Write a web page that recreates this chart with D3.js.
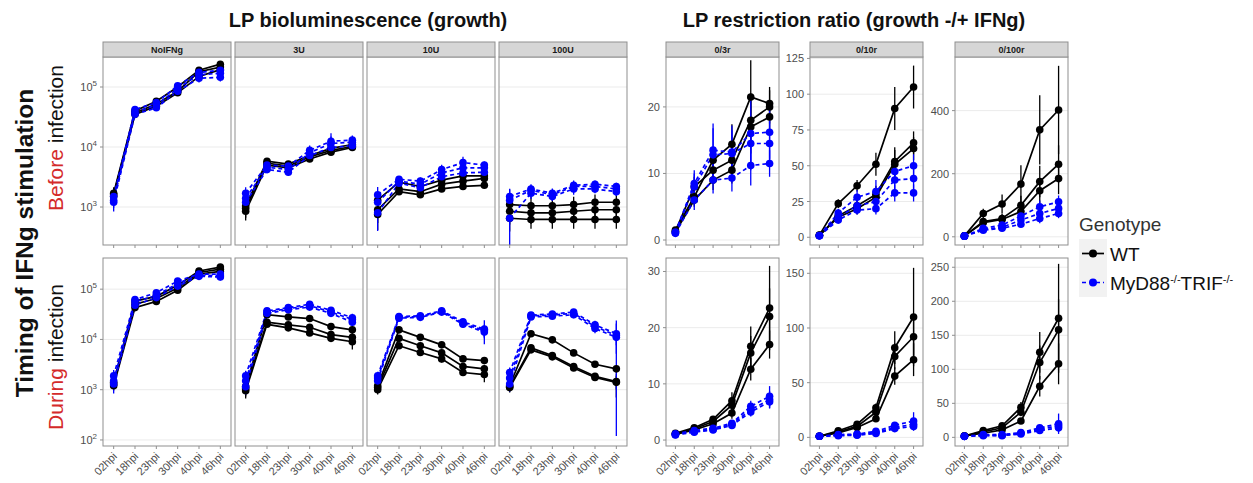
<!DOCTYPE html>
<html>
<head>
<meta charset="utf-8">
<script src="https://cdn.jsdelivr.net/npm/d3@7"></script>
<style>
  body { margin: 0; background: #fff; }
  svg { font-family: "Liberation Sans", Arial, Helvetica, sans-serif; }
</style>
</head>
<body>
<svg id="chart" width="1253" height="483"></svg>
<script>
// ---- categories -------------------------------------------------------
const timepoints = ["02hpi", "18hpi", "23hpi", "30hpi", "40hpi", "46hpi"];
const genotypes = ["WT", "MyD88-/-TRIF-/-"];
const lumiConditions = ["NoIFNg", "3U", "10U", "100U"];
const ratioConditions = ["0/3r", "0/10r", "0/100r"];
const timings = ["Before", "During"];

// ---- LP bioluminescence (RLU): [genotype, replicate means, relative sd] ----
const lumiBeforeNoIFNg = [
  ["WT", [1700, 40000, 58000, 100000, 190000, 240000], [0.25, 0.08, 0.08, 0.08, 0.1, 0.1]],
  ["WT", [1600, 37000, 52000, 85000, 180000, 215000], [0.2, 0.08, 0.08, 0.08, 0.08, 0.1]],
  ["WT", [1500, 35000, 48000, 80000, 150000, 195000], [0.2, 0.08, 0.08, 0.08, 0.1, 0.1]],
  ["MyD88-/-TRIF-/-", [1500, 42000, 55000, 105000, 175000, 190000], [0.3, 0.1, 0.12, 0.12, 0.15, 0.15]],
  ["MyD88-/-TRIF-/-", [1300, 38000, 50000, 95000, 160000, 170000], [0.25, 0.1, 0.12, 0.12, 0.15, 0.2]],
  ["MyD88-/-TRIF-/-", [1200, 35000, 45000, 85000, 140000, 145000], [0.3, 0.1, 0.1, 0.12, 0.15, 0.15]]
];
const lumiBefore3U = [
  ["WT", [1050, 5800, 5200, 7200, 9500, 11000], [0.25, 0.1, 0.1, 0.1, 0.12, 0.1]],
  ["WT", [950, 5400, 4800, 6800, 8800, 10200], [0.3, 0.1, 0.1, 0.1, 0.12, 0.1]],
  ["WT", [850, 5000, 4500, 6300, 8200, 9800], [0.3, 0.1, 0.1, 0.1, 0.1, 0.1]],
  ["MyD88-/-TRIF-/-", [1700, 5000, 4800, 8800, 12500, 13000], [0.25, 0.12, 0.15, 0.2, 0.35, 0.2]],
  ["MyD88-/-TRIF-/-", [1400, 4600, 4200, 8000, 11500, 12000], [0.3, 0.12, 0.15, 0.2, 0.3, 0.2]],
  ["MyD88-/-TRIF-/-", [1200, 4200, 3800, 7200, 9800, 10500], [0.35, 0.12, 0.12, 0.15, 0.2, 0.15]]
];
const lumiBefore10U = [
  ["WT", [1300, 2600, 2200, 2800, 3300, 3300], [0.3, 0.1, 0.1, 0.1, 0.1, 0.1]],
  ["WT", [900, 2000, 1800, 2400, 2700, 3000], [0.4, 0.1, 0.1, 0.1, 0.1, 0.1]],
  ["WT", [750, 1800, 1600, 2000, 2200, 2300], [0.45, 0.1, 0.1, 0.1, 0.1, 0.1]],
  ["MyD88-/-TRIF-/-", [1600, 2900, 2700, 4200, 5500, 5000], [0.35, 0.12, 0.15, 0.2, 0.25, 0.15]],
  ["MyD88-/-TRIF-/-", [1200, 2700, 2400, 3700, 4500, 4500], [0.4, 0.12, 0.15, 0.2, 0.25, 0.15]],
  ["MyD88-/-TRIF-/-", [800, 2500, 2100, 3200, 3700, 3800], [0.5, 0.12, 0.12, 0.15, 0.2, 0.15]]
];
const lumiBefore100U = [
  ["WT", [1100, 1050, 1050, 1100, 1200, 1200], [0.4, 0.4, 0.35, 0.35, 0.35, 0.35]],
  ["WT", [850, 800, 800, 850, 900, 900], [0.4, 0.35, 0.35, 0.35, 0.35, 0.35]],
  ["WT", [650, 620, 620, 620, 620, 620], [0.4, 0.3, 0.3, 0.3, 0.3, 0.3]],
  ["MyD88-/-TRIF-/-", [1500, 2000, 1700, 2300, 2400, 2200], [0.35, 0.2, 0.2, 0.2, 0.15, 0.15]],
  ["MyD88-/-TRIF-/-", [1300, 1900, 1600, 2200, 2200, 2000], [0.5, 0.2, 0.2, 0.2, 0.15, 0.15]],
  ["MyD88-/-TRIF-/-", [650, 1700, 1500, 2000, 2000, 1800], [0.75, 0.2, 0.15, 0.2, 0.15, 0.15]]
];
const lumiDuringNoIFNg = [
  ["WT", [1400, 58000, 72000, 120000, 230000, 275000], [0.2, 0.1, 0.1, 0.1, 0.08, 0.08]],
  ["WT", [1300, 50000, 65000, 105000, 215000, 250000], [0.2, 0.1, 0.1, 0.1, 0.08, 0.08]],
  ["WT", [1200, 43000, 57000, 95000, 200000, 225000], [0.2, 0.1, 0.1, 0.1, 0.08, 0.08]],
  ["MyD88-/-TRIF-/-", [1900, 62000, 85000, 145000, 200000, 200000], [0.3, 0.12, 0.12, 0.12, 0.1, 0.15]],
  ["MyD88-/-TRIF-/-", [1500, 56000, 75000, 130000, 190000, 185000], [0.3, 0.12, 0.12, 0.12, 0.1, 0.15]],
  ["MyD88-/-TRIF-/-", [1300, 48000, 68000, 115000, 180000, 175000], [0.35, 0.12, 0.12, 0.12, 0.1, 0.15]]
];
const lumiDuring3U = [
  ["WT", [1150, 31000, 28000, 26000, 18000, 15500], [0.3, 0.1, 0.1, 0.1, 0.1, 0.15]],
  ["WT", [1050, 22000, 19500, 17500, 12500, 11000], [0.3, 0.1, 0.1, 0.1, 0.15, 0.2]],
  ["WT", [950, 20000, 17000, 13500, 10500, 9000], [0.3, 0.1, 0.1, 0.12, 0.15, 0.3]],
  ["MyD88-/-TRIF-/-", [1900, 37000, 43000, 50000, 38000, 27000], [0.25, 0.1, 0.1, 0.1, 0.12, 0.2]],
  ["MyD88-/-TRIF-/-", [1500, 35000, 41000, 47000, 35000, 25000], [0.25, 0.1, 0.1, 0.1, 0.12, 0.2]],
  ["MyD88-/-TRIF-/-", [1150, 33000, 39000, 44000, 33000, 22000], [0.3, 0.1, 0.1, 0.1, 0.12, 0.2]]
];
const lumiDuring10U = [
  ["WT", [1200, 15500, 11000, 7800, 4100, 3800], [0.15, 0.12, 0.1, 0.1, 0.12, 0.15]],
  ["WT", [1100, 10500, 7500, 5400, 2900, 2600], [0.15, 0.12, 0.12, 0.12, 0.15, 0.2]],
  ["WT", [1000, 7500, 5500, 4100, 2200, 2000], [0.2, 0.12, 0.12, 0.15, 0.15, 0.3]],
  ["MyD88-/-TRIF-/-", [1900, 28500, 29500, 37000, 22500, 16000], [0.2, 0.08, 0.08, 0.1, 0.15, 0.5]],
  ["MyD88-/-TRIF-/-", [1700, 27500, 28500, 36000, 21000, 15000], [0.2, 0.08, 0.08, 0.1, 0.15, 0.3]],
  ["MyD88-/-TRIF-/-", [1500, 26500, 27500, 35000, 20000, 14000], [0.2, 0.08, 0.08, 0.1, 0.15, 0.2]]
];
const lumiDuring100U = [
  ["WT", [1200, 13000, 9800, 5400, 3200, 2600], [0.2, 0.1, 0.1, 0.1, 0.1, 0.15]],
  ["WT", [1150, 6800, 4800, 2900, 1850, 1450], [0.2, 0.1, 0.1, 0.1, 0.15, 0.3]],
  ["WT", [1100, 6200, 4500, 2700, 1750, 1400], [0.2, 0.1, 0.1, 0.1, 0.15, 0.5]],
  ["MyD88-/-TRIF-/-", [2200, 30500, 32000, 35000, 19500, 13000], [0.25, 0.1, 0.12, 0.15, 0.2, 0.6]],
  ["MyD88-/-TRIF-/-", [1700, 29500, 30500, 33000, 18000, 12000], [0.25, 0.1, 0.12, 0.15, 0.2, 0.99]],
  ["MyD88-/-TRIF-/-", [1300, 28000, 29000, 31000, 16500, 11000], [0.3, 0.1, 0.1, 0.15, 0.2, 0.3]]
];

// ---- LP restriction ratio: [genotype, replicate means, sd] ----
const ratioBefore3 = [
  ["WT", [1.5, 6.5, 12.0, 14.4, 21.5, 20.5], [0.3, 1.2, 2, 3, 5.5, 2.5]],
  ["WT", [1.3, 8.0, 10.5, 12.0, 18.0, 20.0], [0.3, 1.5, 2, 2.5, 4, 2.5]],
  ["WT", [1.2, 6.0, 9.0, 10.5, 17.0, 18.5], [0.3, 1, 1.5, 2, 4, 2]],
  ["MyD88-/-TRIF-/-", [1.2, 8.5, 13.5, 13.2, 16.0, 16.2], [0.3, 2, 4, 4, 5, 4]],
  ["MyD88-/-TRIF-/-", [1.1, 8.0, 12.8, 13.0, 14.5, 14.5], [0.3, 2, 4, 3.5, 4, 3.5]],
  ["MyD88-/-TRIF-/-", [1.0, 6.0, 9.0, 9.3, 11.2, 11.5], [0.3, 1.5, 2, 2, 3, 2]]
];
const ratioBefore10 = [
  ["WT", [1.5, 23.5, 36, 51, 90, 105], [0.5, 3, 4, 8, 15, 15]],
  ["WT", [1.3, 15, 22, 30, 53, 66], [0.5, 3, 4, 6, 10, 8]],
  ["WT", [1.2, 14, 20, 28, 51, 62], [0.5, 3, 4, 6, 10, 8]],
  ["MyD88-/-TRIF-/-", [1.2, 17, 28, 32, 46, 50], [0.5, 3, 5, 8, 8, 8]],
  ["MyD88-/-TRIF-/-", [1.1, 14, 22, 25, 40, 41], [0.5, 3, 4, 6, 8, 8]],
  ["MyD88-/-TRIF-/-", [1.0, 12, 19, 20, 31, 31], [0.5, 2, 3, 4, 6, 6]]
];
const ratioBefore100 = [
  ["WT", [3, 74, 104, 167, 339, 402], [2, 15, 30, 60, 110, 140]],
  ["WT", [3, 48, 58, 100, 175, 230], [2, 10, 15, 30, 50, 60]],
  ["WT", [2, 45, 55, 80, 146, 185], [2, 10, 15, 25, 40, 50]],
  ["MyD88-/-TRIF-/-", [2, 27, 37, 66, 95, 111], [1, 8, 10, 15, 20, 20]],
  ["MyD88-/-TRIF-/-", [2, 24, 30, 53, 74, 90], [1, 6, 8, 12, 18, 18]],
  ["MyD88-/-TRIF-/-", [2, 21, 27, 40, 58, 74], [1, 5, 6, 10, 15, 15]]
];
const ratioDuring3 = [
  ["WT", [1.2, 2.2, 3.7, 7.0, 16.7, 23.5], [0.2, 0.3, 0.5, 1.5, 3.5, 7.5]],
  ["WT", [1.1, 2.0, 3.3, 6.2, 15.5, 22.0], [0.2, 0.3, 0.5, 1.2, 3, 5]],
  ["WT", [1.0, 1.8, 2.9, 4.8, 12.6, 17.0], [0.2, 0.3, 0.4, 1, 2, 2.5]],
  ["MyD88-/-TRIF-/-", [1.1, 1.7, 2.1, 3.0, 6.0, 7.8], [0.2, 0.3, 0.4, 0.5, 1, 1.8]],
  ["MyD88-/-TRIF-/-", [1.0, 1.5, 1.9, 2.8, 5.4, 7.2], [0.2, 0.3, 0.4, 0.5, 1, 1.5]],
  ["MyD88-/-TRIF-/-", [0.9, 1.4, 1.8, 2.6, 5.0, 6.8], [0.2, 0.3, 0.3, 0.4, 0.8, 1.2]]
];
const ratioDuring10 = [
  ["WT", [1, 6, 12, 27, 82, 110], [0.5, 1, 2, 4, 15, 45]],
  ["WT", [1, 5, 10, 23, 74, 92], [0.5, 1, 2, 4, 12, 20]],
  ["WT", [1, 4, 9, 17, 56, 71], [0.5, 1, 1.5, 3, 8, 15]],
  ["MyD88-/-TRIF-/-", [1, 2.5, 3, 5.5, 11, 15], [0.5, 1, 1, 1.5, 3, 8]],
  ["MyD88-/-TRIF-/-", [1, 2, 2.5, 4.5, 9, 12], [0.5, 1, 1, 1.5, 3, 5]],
  ["MyD88-/-TRIF-/-", [1, 1.5, 2, 3.5, 8, 10], [0.5, 1, 1, 1, 2, 4]]
];
const ratioDuring100 = [
  ["WT", [2, 10, 17, 44, 125, 175], [0.5, 2, 3, 8, 30, 80]],
  ["WT", [2, 8, 14, 37, 110, 158], [0.5, 2, 3, 6, 25, 45]],
  ["WT", [2, 6, 11, 24, 75, 108], [0.5, 1.5, 2, 4, 15, 30]],
  ["MyD88-/-TRIF-/-", [1.5, 4, 4, 7, 14, 20], [0.5, 1, 1, 2, 4, 15]],
  ["MyD88-/-TRIF-/-", [1.5, 3, 3, 6, 12, 17], [0.5, 1, 1, 2, 4, 8]],
  ["MyD88-/-TRIF-/-", [1.5, 2.5, 2.5, 5, 10, 14], [0.5, 1, 1, 2, 3, 6]]
];

// ---- axis ticks and limits ----
const lumiTicksBefore = [1e3, 1e4, 1e5];
const lumiTicksDuring = [1e2, 1e3, 1e4, 1e5];
const lumiLimitsBefore = [Math.pow(10, 2.367), Math.pow(10, 5.5)];
const lumiLimitsDuring = [Math.pow(10, 1.88), Math.pow(10, 5.62)];
const ratioTicksBefore = [[0, 10, 20], [0, 25, 50, 75, 100, 125], [0, 200, 400]];
const ratioTicksDuring = [[0, 10, 20, 30], [0, 50, 100, 150], [0, 50, 100, 150, 200, 250]];
const ratioLimitsBefore = [[-0.75, 27.5], [-5.4, 126], [-26, 570]];
const ratioLimitsDuring = [[-1.06, 32.4], [-7.9, 164], [-12.7, 263.6]];

// ---- layout ----
const svg = d3.select("#chart");
const rowTop = [57, 258];
const rowH = 188;
const stripH = 15;
const lumiLeft = [103, 235, 367, 499], lumiW = 128;
const ratioLeft = [666, 810, 955], ratioW = 113;
const genoColor = d3.scaleOrdinal().domain(genotypes).range(["#000000", "#0000ff"]);
const genoDash = d3.scaleOrdinal().domain(genotypes).range(["none", "4,3"]);
const axisGrey = "#4d4d4d";
const borderGrey = "#8f8f8f";
const gridGrey = "#ebebeb";

const lumiData = [
  [lumiBeforeNoIFNg, lumiBefore3U, lumiBefore10U, lumiBefore100U],
  [lumiDuringNoIFNg, lumiDuring3U, lumiDuring10U, lumiDuring100U]
];
const ratioData = [
  [ratioBefore3, ratioBefore10, ratioBefore100],
  [ratioDuring3, ratioDuring10, ratioDuring100]
];

let clipCount = 0;

function drawPanel(o) {
  const g = svg.append("g");
  const x = d3.scalePoint().domain(timepoints).range([o.x, o.x + o.w]).padding(0.5);
  const y = o.y;
  const top = o.top, bottom = o.top + rowH;

  g.append("rect").attr("x", o.x).attr("y", top).attr("width", o.w).attr("height", rowH)
    .attr("fill", "#fff");

  // horizontal grid at the major ticks
  g.selectAll(null).data(o.ticks).enter().append("line")
    .attr("x1", o.x).attr("x2", o.x + o.w)
    .attr("y1", d => y(d)).attr("y2", d => y(d))
    .attr("stroke", gridGrey).attr("stroke-width", 1);

  const cid = "clip" + (clipCount++);
  svg.append("clipPath").attr("id", cid).append("rect")
    .attr("x", o.x).attr("y", top).attr("width", o.w).attr("height", rowH);
  const plot = g.append("g").attr("clip-path", `url(#${cid})`);

  const series = o.series.map(s => ({
    geno: s[0],
    pts: s[1].map((v, i) => {
      const lo = o.log ? v * (1 - s[2][i]) : v - s[2][i];
      const hi = o.log ? v * (1 + s[2][i]) : v + s[2][i];
      return { t: timepoints[i], v, lo: o.log ? Math.max(lo, 1) : lo, hi };
    })
  }));

  // error bars
  series.forEach(s => {
    plot.selectAll(null).data(s.pts).enter().append("line")
      .attr("x1", d => x(d.t)).attr("x2", d => x(d.t))
      .attr("y1", d => y(d.lo)).attr("y2", d => y(d.hi))
      .attr("stroke", genoColor(s.geno)).attr("stroke-width", 1.3);
  });
  // lines
  const line = d3.line().x(d => x(d.t)).y(d => y(d.v));
  series.forEach(s => {
    plot.append("path").datum(s.pts).attr("d", line)
      .attr("fill", "none").attr("stroke", genoColor(s.geno))
      .attr("stroke-width", 1.7).attr("stroke-dasharray", genoDash(s.geno));
  });
  // points
  series.forEach(s => {
    plot.selectAll(null).data(s.pts).enter().append("circle")
      .attr("cx", d => x(d.t)).attr("cy", d => y(d.v)).attr("r", 3.8)
      .attr("fill", genoColor(s.geno));
  });

  // panel border
  g.append("rect").attr("x", o.x).attr("y", top).attr("width", o.w).attr("height", rowH)
    .attr("fill", "none").attr("stroke", borderGrey).attr("stroke-width", 1);

  // x ticks
  g.selectAll(null).data(timepoints).enter().append("line")
    .attr("x1", d => x(d)).attr("x2", d => x(d))
    .attr("y1", bottom).attr("y2", bottom + 3)
    .attr("stroke", borderGrey).attr("stroke-width", 1);
  if (o.xLabels) {
    g.selectAll(null).data(timepoints).enter().append("text")
      .attr("transform", d => `translate(${x(d) + 4},${bottom + 11}) rotate(-45)`)
      .attr("text-anchor", "end").attr("font-size", 11).attr("fill", axisGrey)
      .text(d => d);
  }

  // y ticks and labels
  if (o.yLabels) {
    g.selectAll(null).data(o.ticks).enter().append("line")
      .attr("x1", o.x - 3).attr("x2", o.x)
      .attr("y1", d => y(d)).attr("y2", d => y(d))
      .attr("stroke", borderGrey).attr("stroke-width", 1);
    const lab = g.selectAll(null).data(o.ticks).enter().append("text")
      .attr("x", o.x - 6).attr("y", d => y(d) + 4)
      .attr("text-anchor", "end").attr("font-size", 11).attr("fill", axisGrey);
    if (o.log) {
      lab.append("tspan").text("10");
      lab.append("tspan").attr("dy", -5).attr("font-size", 8)
        .text(d => Math.round(Math.log10(d)));
    } else {
      lab.text(d => d);
    }
  }

  // facet strip
  if (o.strip) {
    g.append("rect").attr("x", o.x).attr("y", top - stripH).attr("width", o.w).attr("height", stripH)
      .attr("fill", "#d6d6d6").attr("stroke", borderGrey).attr("stroke-width", 1);
    g.append("text").attr("x", o.x + o.w / 2).attr("y", top - stripH / 2 + 3.5)
      .attr("text-anchor", "middle").attr("font-size", 9).attr("font-weight", "bold")
      .attr("fill", "#1a1a1a").text(o.strip);
  }
}

// bioluminescence panels (log scale, shared y per row)
timings.forEach((tm, r) => {
  const y = d3.scaleLog()
    .domain(r === 0 ? lumiLimitsBefore : lumiLimitsDuring)
    .range([rowTop[r] + rowH, rowTop[r]]);
  lumiConditions.forEach((c, j) => {
    drawPanel({
      x: lumiLeft[j], w: lumiW, top: rowTop[r], y, log: true,
      ticks: r === 0 ? lumiTicksBefore : lumiTicksDuring,
      series: lumiData[r][j],
      yLabels: j === 0, xLabels: r === 1,
      strip: r === 0 ? c : null
    });
  });
});

// restriction ratio panels (free y per panel)
timings.forEach((tm, r) => {
  ratioConditions.forEach((c, j) => {
    const y = d3.scaleLinear()
      .domain(r === 0 ? ratioLimitsBefore[j] : ratioLimitsDuring[j])
      .range([rowTop[r] + rowH, rowTop[r]]);
    drawPanel({
      x: ratioLeft[j], w: ratioW, top: rowTop[r], y, log: false,
      ticks: r === 0 ? ratioTicksBefore[j] : ratioTicksDuring[j],
      series: ratioData[r][j],
      yLabels: true, xLabels: r === 1,
      strip: r === 0 ? c : null
    });
  });
});

// titles
svg.append("text").attr("x", 368).attr("y", 27).attr("text-anchor", "middle")
  .attr("font-size", 20).attr("font-weight", "bold").attr("fill", "#111")
  .text("LP bioluminescence (growth)");
svg.append("text").attr("x", 854).attr("y", 27).attr("text-anchor", "middle")
  .attr("font-size", 20).attr("font-weight", "bold").attr("fill", "#111")
  .text("LP restriction ratio (growth -/+ IFNg)");

// row labels
svg.append("text").attr("transform", "translate(33,243) rotate(-90)")
  .attr("text-anchor", "middle").attr("font-size", 24.5).attr("font-weight", "bold")
  .attr("fill", "#111").text("Timing of IFNg stimulation");
const rowLabelY = [138, 357];
timings.forEach((tm, r) => {
  const t = svg.append("text").attr("transform", `translate(63,${rowLabelY[r]}) rotate(-90)`)
    .attr("text-anchor", "middle").attr("font-size", 21).attr("fill", "#111");
  t.append("tspan").attr("fill", "#d42a2a").text(tm);
  t.append("tspan").text(" infection");
});

// legend
const lg = svg.append("g");
lg.append("text").attr("x", 1079).attr("y", 231).attr("font-size", 19).attr("fill", "#333")
  .text("Genotype");
genotypes.forEach((gname, i) => {
  const ky = 239 + i * 29;
  lg.append("rect").attr("x", 1079).attr("y", ky).attr("width", 28).attr("height", 29)
    .attr("fill", "#f2f2f2");
  lg.append("line").attr("x1", 1082).attr("x2", 1104).attr("y1", ky + 14.5).attr("y2", ky + 14.5)
    .attr("stroke", genoColor(gname)).attr("stroke-width", 1.7)
    .attr("stroke-dasharray", genoDash(gname));
  lg.append("circle").attr("cx", 1093).attr("cy", ky + 14.5).attr("r", 4)
    .attr("fill", genoColor(gname));
  const t = lg.append("text").attr("x", 1110).attr("y", ky + 21.5).attr("font-size", 19)
    .attr("fill", "#111");
  if (i === 0) {
    t.text(gname);
  } else {
    t.append("tspan").text("MyD88");
    t.append("tspan").attr("dy", -7).attr("font-size", 11).text("-/-");
    t.append("tspan").attr("dy", 7).text("TRIF");
    t.append("tspan").attr("dy", -7).attr("font-size", 11).text("-/-");
  }
});
</script>
</body>
</html>
